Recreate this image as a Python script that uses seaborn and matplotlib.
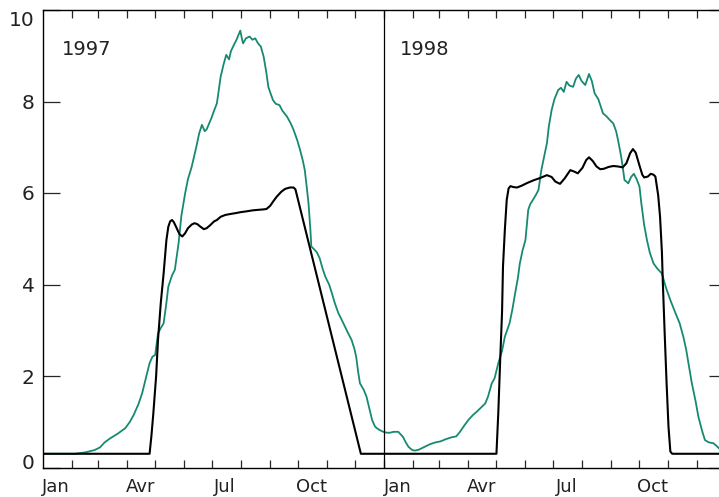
import matplotlib
matplotlib.use("Agg")
import matplotlib.pyplot as plt
import matplotlib.transforms as mtransforms
import numpy as np
import pandas as pd
import seaborn as sns

# ---- data (days since 1 Jan 1997) ----
green_day = [0, 20, 34, 45, 55, 61, 66, 72, 80, 88, 93, 97, 102, 106, 110, 114, 117, 120, 123, 126,
             129, 132, 134, 138, 141, 145, 148, 152, 155, 159, 164, 167, 170, 173, 175, 180, 183, 186,
             190, 193, 196, 199, 201, 204, 207, 209, 211, 213, 214, 217, 221, 224, 227, 230, 233, 236,
             239, 241, 243, 246, 249, 253, 256, 261, 265, 268, 272, 275, 278, 280, 282, 284, 286, 287,
             290, 293, 296, 299, 302, 306, 309, 312, 316, 319, 323, 326, 330, 333, 335, 337, 339, 343,
             346, 349, 352, 355, 357, 360, 364, 368, 371, 375, 380, 385, 388, 391, 395, 398, 402, 405,
             410, 414, 420, 425, 431, 437, 442, 446, 450, 455, 460, 464, 469, 473, 476, 480, 483, 487,
             491, 494, 499, 502, 505, 508, 510, 513, 516, 519, 521, 524, 527, 530, 533, 536, 539, 541,
             544, 547, 551, 554, 557, 560, 563, 567, 570, 573, 576, 580, 584, 587, 590, 594, 599, 603,
             606, 610, 613, 615, 617, 619, 622, 624, 626, 629, 632, 635, 638, 640, 643, 646, 649, 653,
             657, 662, 666, 671, 676, 681, 685, 688, 691, 694, 698, 701, 705, 708, 712, 717, 720, 723, 730]
green_val = [0.30, 0.30, 0.30, 0.33, 0.38, 0.44, 0.55, 0.64, 0.74, 0.86, 1.00, 1.15, 1.38, 1.62, 1.95, 2.28, 2.42, 2.46, 2.93, 3.05,
             3.15, 3.60, 3.95, 4.20, 4.32, 4.90, 5.50, 5.99, 6.30, 6.57, 7.01, 7.30, 7.49, 7.35, 7.39, 7.63, 7.80, 7.96,
             8.54, 8.80, 9.02, 8.92, 9.10, 9.23, 9.35, 9.45, 9.55, 9.35, 9.27, 9.38, 9.42, 9.35, 9.38, 9.27, 9.20, 8.98,
             8.62, 8.32, 8.20, 8.03, 7.95, 7.92, 7.80, 7.67, 7.52, 7.38, 7.15, 6.94, 6.70, 6.50, 6.15, 5.77, 5.20, 4.83,
             4.77, 4.70, 4.57, 4.35, 4.17, 4.00, 3.81, 3.60, 3.37, 3.25, 3.08, 2.95, 2.79, 2.60, 2.42, 2.10, 1.84, 1.70,
             1.55, 1.30, 1.04, 0.90, 0.86, 0.82, 0.78, 0.76, 0.76, 0.78, 0.78, 0.67, 0.55, 0.45, 0.38, 0.37, 0.39, 0.42,
             0.47, 0.51, 0.55, 0.57, 0.62, 0.66, 0.68, 0.78, 0.90, 1.04, 1.15, 1.22, 1.32, 1.40, 1.55, 1.84, 1.95, 2.28,
             2.55, 2.86, 3.15, 3.45, 3.81, 4.15, 4.46, 4.75, 4.97, 5.63, 5.75, 5.85, 5.95, 6.07, 6.50, 6.80, 7.09, 7.45,
             7.81, 8.05, 8.25, 8.30, 8.21, 8.43, 8.35, 8.32, 8.50, 8.58, 8.45, 8.36, 8.60, 8.45, 8.18, 8.05, 7.74, 7.67,
             7.60, 7.52, 7.35, 7.16, 6.95, 6.72, 6.28, 6.25, 6.21, 6.35, 6.42, 6.30, 6.14, 5.77, 5.30, 4.97, 4.70, 4.46,
             4.35, 4.24, 3.95, 3.66, 3.40, 3.15, 2.85, 2.57, 2.20, 1.84, 1.45, 1.11, 0.80, 0.60, 0.55, 0.53, 0.48, 0.42, 0.38]

black_day = [0, 114, 116, 118, 121, 123, 126, 129, 132, 134, 136, 138, 140, 143, 146, 149, 152, 155, 159, 162,
             165, 168, 172, 175, 179, 183, 186, 190, 195, 200, 206, 211, 218, 224, 229, 235, 239, 243, 246, 250,
             255, 259, 264, 268, 270, 340, 485, 487, 489, 491, 492, 494, 496, 498, 500, 503, 507, 512, 518, 525,
             532, 539, 544, 548, 553, 558, 564, 568, 572, 577, 581, 584, 588, 592, 596, 600, 605, 610, 615, 620,
             624, 628, 631, 634, 638, 641, 643, 647, 650, 653, 655, 658, 660, 662, 663, 665, 667, 669, 671, 673, 730]
black_val = [0.30, 0.30, 0.70, 1.18, 2.00, 2.79, 3.60, 4.24, 4.97, 5.26, 5.38, 5.41, 5.36, 5.23, 5.10, 5.05, 5.12, 5.23, 5.31, 5.34,
             5.32, 5.27, 5.21, 5.23, 5.30, 5.38, 5.41, 5.48, 5.52, 5.54, 5.56, 5.58, 5.60, 5.62, 5.63, 5.64, 5.65, 5.72, 5.81, 5.92,
             6.03, 6.09, 6.12, 6.12, 6.08, 0.30, 0.30, 1.20, 2.35, 3.40, 4.39, 5.20, 5.85, 6.10, 6.15, 6.13, 6.12, 6.16, 6.22, 6.28,
             6.33, 6.39, 6.35, 6.25, 6.20, 6.32, 6.50, 6.47, 6.43, 6.55, 6.72, 6.78, 6.70, 6.58, 6.52, 6.53, 6.57, 6.59, 6.58, 6.56,
             6.65, 6.87, 6.96, 6.88, 6.60, 6.40, 6.34, 6.36, 6.42, 6.40, 6.36, 5.95, 5.48, 4.70, 4.03, 2.90, 1.84, 0.90, 0.35, 0.30, 0.30]

month_start_days = [31, 59, 90, 120, 151, 181, 212, 243, 273, 304, 334, 365,
                    396, 424, 455, 485, 516, 546, 577, 608, 638, 669, 699]
month_label_days = [14, 104, 195, 287, 379, 469, 560, 652]
month_labels = ["Jan", "Avr", "Jul", "Oct", "Jan", "Avr", "Jul", "Oct"]
y_ticks = [0, 2, 4, 6, 8, 10]
y_ticklabels = ["0", "2", "4", "6", "8", "10"]
year_labels = ["1997", "1998"]
year_label_days = [20, 382]
year_split_day = 365

# ---- plot ----
sns.set_style("ticks")
plt.rcParams["font.family"] = ["DejaVu Sans"]

W, H = 719, 497
fig = plt.figure(figsize=(W / 100, H / 100), dpi=100)
ax = fig.add_axes([43 / W, 29.5 / H, (725.5 - 43) / W, (487 - 29.5) / H])

green_df = pd.DataFrame({"day": green_day, "val": green_val})
black_df = pd.DataFrame({"day": black_day, "val": black_val})

sns.lineplot(data=green_df, x="day", y="val", ax=ax, color="#168a70", lw=1.3,
             estimator=None, sort=False)
sns.lineplot(data=black_df, x="day", y="val", ax=ax, color="black", lw=1.5,
             estimator=None, sort=False)
ax.axvline(year_split_day, color="black", lw=0.9)

ax.set_xlim(0, 730)
ax.set_ylim(0, 10)
ax.set_xlabel("")
ax.set_ylabel("")

for sp in ax.spines.values():
    sp.set_color("black")
    sp.set_linewidth(1.0)

ax.set_yticks(y_ticks)
ax.set_yticklabels(y_ticklabels)
ax.tick_params(axis="y", direction="in", length=12, width=0.9, left=True, right=True,
               labelsize=14.5, pad=6, labelcolor="#222222")

ax.set_xticks(month_label_days)
ax.set_xticklabels(month_labels)
ax.set_xticks(month_start_days, minor=True)
ax.tick_params(axis="x", which="major", length=0, pad=7.5, labelsize=13, labelcolor="#222222")
ax.tick_params(axis="x", which="minor", direction="in", length=5.5, width=0.9,
               top=True, bottom=True)

# end labels on the y axis sit slightly inside the axis range
ylabs = ax.get_yticklabels()
ylabs[0].set_transform(ylabs[0].get_transform() +
                       mtransforms.ScaledTranslation(0, 6 / 100, fig.dpi_scale_trans))
ylabs[-1].set_transform(ylabs[-1].get_transform() +
                        mtransforms.ScaledTranslation(0, -9 / 100, fig.dpi_scale_trans))

for lab, d in zip(year_labels, year_label_days):
    ax.text(d, 9.13, lab, fontsize=14, color="#222222", ha="left", va="center")

fig.savefig("out.png", dpi=100)
